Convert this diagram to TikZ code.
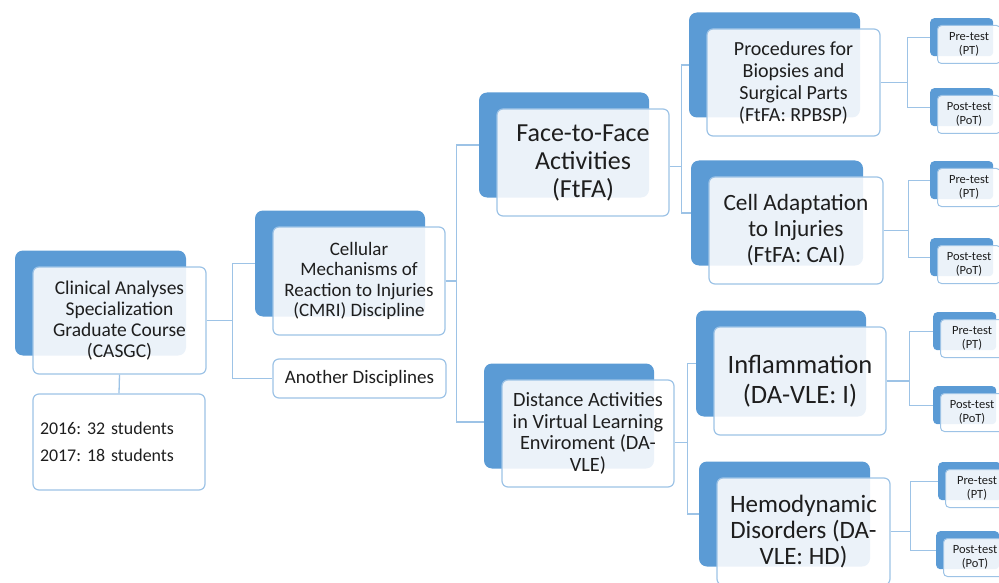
\documentclass[tikz,border=0pt]{standalone}
\usepackage{fontspec}
\setmainfont{Carlito}
\usetikzlibrary{calc}
\definecolor{bback}{RGB}{91,155,213}
\definecolor{bline}{RGB}{157,195,230}
\definecolor{txt}{RGB}{30,30,30}
\frenchspacing
\tikzset{
  backbox/.style={fill=bback, rounded corners=8pt, inner sep=0pt},
  frontbox/.style={draw=bline, line width=1.2pt, fill=white, fill opacity=0.88, text opacity=1,
    rounded corners=6pt, inner sep=0pt, align=center, text=txt},
  plainbox/.style={draw=bline, line width=1.2pt, fill=white, rounded corners=6pt, inner sep=0pt, text=txt},
  tback/.style={fill=bback, rounded corners=4pt, inner sep=0pt, minimum width=63pt, minimum height=38pt},
  tfront/.style={draw=bline, line width=1pt, fill=white, fill opacity=0.88, text opacity=1,
    rounded corners=4pt, inner sep=0pt, align=center, text=txt, minimum width=63pt, minimum height=38pt,
    font=\fontsize{12.5pt}{14pt}\selectfont},
  conn/.style={draw=bline, line width=1.3pt}
}
\newcommand\duobox[8]{%
  \node[backbox, minimum width=#4pt-2pt, minimum height=#5pt-2pt] (#1B) at (#2-19,#3-17.5) {};
  \node[frontbox, minimum width=#4pt, minimum height=#5pt, font=\fontsize{#6pt}{#7pt}\selectfont] (#1) at (#2,#3) {#8};}
\newcommand\testbox[4]{%
  \node[tback, anchor=north west] (#1B) at (#2-7,#3-7) {};
  \node[tfront, anchor=north west] (#1) at (#2,#3) {#4};}
\begin{document}
\begin{tikzpicture}[x=1pt,y=-1pt]
\useasboundingbox (0,0) rectangle (999,583);
\clip (0,0) rectangle (999,583);

\duobox{casgc}{119.5}{320.5}{173}{107}{19.5}{21}{Clinical Analyses\\Specialization\\Graduate Course\\(CASGC)}
\node[plainbox, minimum width=172pt, minimum height=96pt, text width=158pt, align=left,
  font=\fontsize{17.9pt}{27pt}\selectfont] (students) at (119,442) {2016: 32 students\\2017: 18 students};

\duobox{cmri}{359}{281}{172}{108}{19}{20.5}{Cellular\\Mechanisms of\\Reaction to Injuries\\(CMRI) Discipline}
\node[plainbox, minimum width=173pt, minimum height=39pt, font=\fontsize{19pt}{21pt}\selectfont] (other) at (359.5,378.5) {Another Disciplines};

\duobox{ftfa}{583}{162.5}{172}{107}{26}{28}{Face-to-Face\\Activities\\(FtFA)}
\duobox{dv}{588}{433.5}{172}{107}{20.3}{21.5}{Distance Activities\\in Virtual Learning\\Enviroment (DA-\\VLE)}

\duobox{rpbsp}{793.5}{82.5}{173}{107}{20}{22}{Procedures for\\Biopsies and\\Surgical Parts\\(FtFA: RPBSP)}
\duobox{cai}{796}{230.5}{174}{107}{23.3}{26}{Cell Adaptation\\to Injuries\\(FtFA: CAI)}
\duobox{infl}{800}{381}{172}{108}{26.5}{30}{Inflammation\\(DA-VLE: I)}
\duobox{hd}{803.5}{531.5}{173}{107}{25}{26}{Hemodynamic\\Disorders (DA-\\VLE: HD)}

\testbox{tpa}{937}{25}{Pre-test\\(PT)}
\testbox{tpb}{937}{95}{Post-test\\(PoT)}
\testbox{tca}{937}{168}{Pre-test\\(PT)}
\testbox{tcb}{937}{245}{Post-test\\(PoT)}
\testbox{tia}{940}{319}{Pre-test\\(PT)}
\testbox{tib}{940}{393}{Post-test\\(PoT)}
\testbox{tha}{945}{469}{Pre-test\\(PT)}
\testbox{thb}{943}{538}{Post-test\\(PoT)}

% connectors
\draw[conn] (casgc.south) -- (students.north);
\draw[conn] (casgc.east) -- ++(26,0) coordinate (j1) |- (cmriB.west);
\draw[conn] (j1) |- (other.west);
\draw[conn] (cmri.east) -- ++(11,0) coordinate (j2) |- (ftfaB.west);
\draw[conn] (j2) |- ([yshift=-6pt]dvB.west);
\draw[conn] ([yshift=-4pt]ftfa.east) -- ++(12,0) coordinate (j3) |- (rpbspB.west);
\draw[conn] (j3) |- (caiB.west);
\draw[conn] ([yshift=-9pt]dv.east) -- ++(13,0) coordinate (j4) |- (inflB.west);
\draw[conn] (j4) |- (hdB.west);
\draw[conn] (rpbsp.east) -- ++(27,0) coordinate (j5) |- (tpaB.west);
\draw[conn] (j5) |- (tpbB.west);
\draw[conn] (cai.east) -- ++(25,0) coordinate (j6) |- (tcaB.west);
\draw[conn] (j6) |- (tcbB.west);
\draw[conn] (infl.east) -- ++(23,0) coordinate (j7) |- (tiaB.west);
\draw[conn] (j7) |- (tibB.west);
\draw[conn] (hd.east) -- ++(20,0) coordinate (j8) |- (thaB.west);
\draw[conn] (j8) |- (thbB.west);
\end{tikzpicture}
\end{document}
